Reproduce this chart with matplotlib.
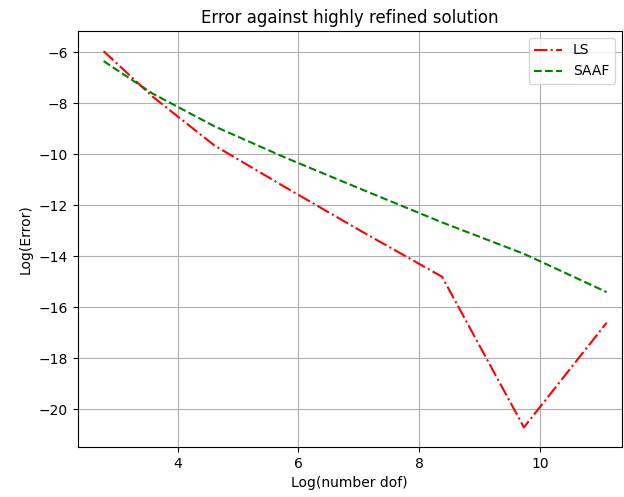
import numpy as np
import matplotlib
matplotlib.use("Agg")
import matplotlib.pyplot as plt

# degrees of freedom for each refinement level
dof = [16, 36, 100, 324, 1156, 4356, 16900, 66564]
log_dof = np.log(dof)
# log of error against the highly refined solution
ls_err = [-5.96, -7.74, -9.65, -11.29, -13.03, -14.80, -20.70, -16.60]
saaf_err = [-6.35, -7.62, -8.90, -10.13, -11.38, -12.67, -13.90, -15.40]

fig = plt.figure(figsize=(6.24, 4.97), dpi=100)
ax = fig.add_axes([77.5 / 624, 1 - 447 / 497, (622 - 77.5) / 624, (447 - 31) / 497])

ax.plot(log_dof, ls_err, color="red", linestyle="-.", label="LS")
ax.plot(log_dof, saaf_err, color="green", linestyle="--", label="SAAF")

ax.set_xlim(2.34, 11.36)
ax.set_ylim(-21.47, -5.17)
ax.set_xticks([4, 6, 8, 10])
ax.set_yticks([-20, -18, -16, -14, -12, -10, -8, -6])
ax.grid(True)
ax.set_title("Error against highly refined solution")
ax.set_xlabel("Log(number dof)")
ax.set_ylabel("Log(Error)")
ax.legend(loc="upper right")

fig.savefig("out.png", dpi=100)
